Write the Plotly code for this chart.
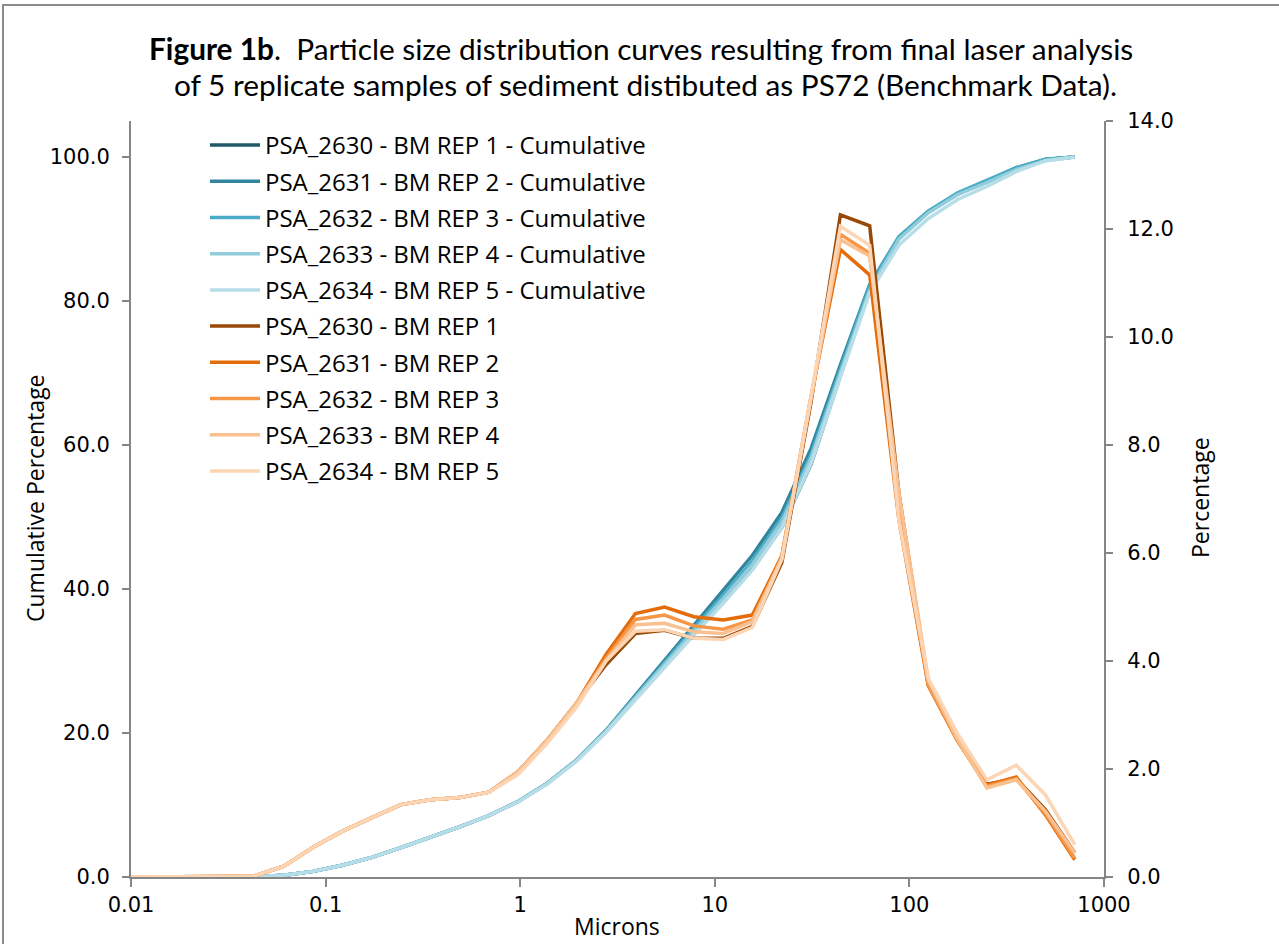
import plotly.graph_objects as go

# Particle size (microns)
microns = [0.01, 0.0153, 0.0216, 0.0305, 0.0432, 0.0610, 0.0863, 0.122, 0.173, 0.244,
           0.345, 0.488, 0.691, 0.977, 1.38, 1.95, 2.76, 3.91, 5.52, 7.81,
           11.05, 15.6, 22.1, 31.25, 44.2, 62.5, 88.4, 125, 177, 250,
           354, 500, 707]

# Percentage (right axis)
pct_rep1 = [0, 0, 0, 0.01, 0.02, 0.20, 0.55, 0.85, 1.10, 1.34, 1.43, 1.47, 1.57, 1.95, 2.54, 3.22,
            3.93, 4.51, 4.57, 4.42, 4.42, 4.64, 5.82, 8.80, 12.26, 12.06, 7.10, 3.55, 2.52, 1.72,
            1.82, 1.25, 0.45]
pct_rep2 = [0, 0, 0, 0.01, 0.02, 0.20, 0.55, 0.85, 1.10, 1.34, 1.43, 1.47, 1.57, 1.95, 2.54, 3.22,
            4.12, 4.88, 5.00, 4.82, 4.76, 4.85, 5.95, 8.90, 11.62, 11.15, 6.60, 3.55, 2.52, 1.70,
            1.85, 1.15, 0.32]
pct_rep3 = [0, 0, 0, 0.01, 0.02, 0.20, 0.55, 0.85, 1.10, 1.34, 1.43, 1.47, 1.57, 1.95, 2.54, 3.22,
            4.05, 4.77, 4.85, 4.65, 4.59, 4.76, 5.92, 8.85, 11.90, 11.55, 6.80, 3.55, 2.52, 1.68,
            1.82, 1.18, 0.35]
pct_rep4 = [0, 0, 0, 0.01, 0.02, 0.20, 0.55, 0.85, 1.10, 1.34, 1.43, 1.47, 1.57, 1.95, 2.54, 3.22,
            4.00, 4.67, 4.70, 4.54, 4.51, 4.73, 5.90, 8.90, 11.80, 11.50, 7.10, 3.65, 2.55, 1.65,
            1.80, 1.22, 0.45]
pct_rep5 = [0, 0, 0, 0.01, 0.02, 0.20, 0.55, 0.85, 1.10, 1.34, 1.43, 1.47, 1.57, 1.90, 2.48, 3.15,
            4.00, 4.55, 4.58, 4.42, 4.40, 4.62, 5.88, 8.90, 12.05, 11.70, 6.60, 3.68, 2.65, 1.80,
            2.07, 1.52, 0.60]

# Cumulative percentage (left axis)
cum_rep1 = [0, 0, 0, 0.01, 0.03, 0.23, 0.78, 1.63, 2.73, 4.07, 5.50, 6.97, 8.54, 10.49, 13.03, 16.25,
            20.18, 24.69, 29.26, 33.68, 38.10, 42.74, 48.56, 57.36, 69.62, 81.68, 88.78, 92.33, 94.85, 96.57,
            98.39, 99.64, 100.0]
cum_rep2 = [0, 0, 0, 0.01, 0.03, 0.23, 0.78, 1.63, 2.73, 4.07, 5.50, 6.97, 8.54, 10.49, 13.03, 16.25,
            20.37, 25.25, 30.25, 35.07, 39.83, 44.68, 50.63, 59.53, 71.15, 82.30, 88.90, 92.45, 94.97, 96.67,
            98.52, 99.67, 100.0]
cum_rep3 = [0, 0, 0, 0.01, 0.03, 0.23, 0.78, 1.63, 2.73, 4.07, 5.50, 6.97, 8.54, 10.49, 13.03, 16.25,
            20.30, 25.07, 29.92, 34.57, 39.16, 43.92, 49.84, 58.69, 70.59, 82.14, 88.94, 92.49, 95.01, 96.69,
            98.51, 99.69, 100.0]
cum_rep4 = [0, 0, 0, 0.01, 0.03, 0.23, 0.78, 1.63, 2.73, 4.07, 5.50, 6.97, 8.54, 10.49, 13.03, 16.25,
            20.25, 24.92, 29.62, 34.16, 38.67, 43.40, 49.30, 58.20, 70.00, 81.50, 88.60, 92.25, 94.80, 96.45,
            98.25, 99.47, 100.0]
cum_rep5 = [0, 0, 0, 0.01, 0.03, 0.23, 0.78, 1.63, 2.73, 4.07, 5.50, 6.97, 8.54, 10.44, 12.92, 16.07,
            20.07, 24.62, 29.20, 33.62, 38.02, 42.64, 48.52, 57.42, 69.47, 81.17, 87.77, 91.45, 94.10, 95.90,
            97.97, 99.49, 100.0]

cum_names = ["PSA_2630 - BM REP 1 - Cumulative", "PSA_2631 - BM REP 2 - Cumulative",
             "PSA_2632 - BM REP 3 - Cumulative", "PSA_2633 - BM REP 4 - Cumulative",
             "PSA_2634 - BM REP 5 - Cumulative"]
pct_names = ["PSA_2630 - BM REP 1", "PSA_2631 - BM REP 2", "PSA_2632 - BM REP 3",
             "PSA_2633 - BM REP 4", "PSA_2634 - BM REP 5"]
cum_colors = ["#215968", "#31859C", "#4BACC6", "#92CDDC", "#B7DEE8"]
pct_colors = ["#984807", "#E46C0A", "#F79646", "#FAC090", "#FCD5B5"]

cum_series = [cum_rep1, cum_rep2, cum_rep3, cum_rep4, cum_rep5]
pct_series = [pct_rep1, pct_rep2, pct_rep3, pct_rep4, pct_rep5]

fig = go.Figure()
g = 0
for name, col, ys in zip(cum_names, cum_colors, cum_series):
    fig.add_trace(go.Scatter(x=microns, y=ys, name=name, mode="lines",
                             line=dict(color=col, width=3.5), yaxis="y",
                             legendgroup=f"g{g}"))
    g += 1
for name, col, ys in zip(pct_names, pct_colors, pct_series):
    fig.add_trace(go.Scatter(x=microns, y=ys, name=name, mode="lines",
                             line=dict(color=col, width=3.5), yaxis="y2",
                             legendgroup=f"g{g}"))
    g += 1

W, H = 1279, 944
L, R, T, B = 131, 1104, 121, 877
pw, ph = R - L, B - T

def px(xp):
    return (xp - L) / pw

def py(yp):
    return (B - yp) / ph

tick_font = dict(family="DejaVu Sans", size=21, color="#000000")
axis_col = "#868686"

fig.update_layout(
    width=W, height=H,
    margin=dict(l=L, r=W - R, t=T, b=H - B, pad=0),
    paper_bgcolor="white", plot_bgcolor="white",
    showlegend=True,
    legend=dict(x=px(205), y=py(123), xanchor="left", yanchor="top",
                font=dict(family="Open Sans", size=24, color="#000000"),
                traceorder="grouped", tracegroupgap=2, itemwidth=50,
                bgcolor="rgba(0,0,0,0)"),
    xaxis=dict(type="log", range=[-2, 3], tickvals=[0.01, 0.1, 1, 10, 100, 1000],
               ticktext=["0.01", "0.1", "1", "10", "100", "1000"],
               showgrid=False, zeroline=False, showline=True, linecolor=axis_col, linewidth=2,
               ticks="outside", ticklen=8, tickcolor=axis_col, tickwidth=2,
               tickfont=tick_font),
    yaxis=dict(range=[0, 105], tickvals=[0, 20, 40, 60, 80, 100],
               ticktext=["0.0", "20.0", "40.0", "60.0", "80.0", "100.0"],
               showgrid=False, zeroline=False, showline=True, linecolor=axis_col, linewidth=2,
               ticks="outside", ticklen=7, tickcolor=axis_col, tickwidth=2,
               ticklabelstandoff=8, tickfont=tick_font),
    yaxis2=dict(range=[0, 14], overlaying="y", side="right",
                tickvals=[0, 2, 4, 6, 8, 10, 12, 14],
                ticktext=["0.0", "2.0", "4.0", "6.0", "8.0", "10.0", "12.0", "14.0"],
                showgrid=False, zeroline=False, showline=True, linecolor=axis_col, linewidth=2,
                ticks="outside", ticklen=7, tickcolor=axis_col, tickwidth=2,
                ticklabelstandoff=10, tickfont=tick_font),
)

title_font = dict(family="Lato", size=29.8, color="#000000")
fig.add_annotation(text="<b>Figure 1b</b>.  Particle size distribution curves resulting from final laser analysis",
                   xref="paper", yref="paper", x=px(641), y=py(48), showarrow=False,
                   xanchor="center", yanchor="middle", font=title_font)
fig.add_annotation(text="of 5 replicate samples of sediment distibuted as PS72 (Benchmark Data).",
                   xref="paper", yref="paper", x=px(645), y=py(84), showarrow=False,
                   xanchor="center", yanchor="middle", font=title_font)

lab_font = dict(family="Open Sans", size=23, color="#000000")
fig.add_annotation(text="Microns", xref="paper", yref="paper", x=px(617), y=py(926),
                   showarrow=False, xanchor="center", yanchor="middle", font=lab_font)
fig.add_annotation(text="Cumulative Percentage", xref="paper", yref="paper", x=px(35), y=py(498),
                   showarrow=False, xanchor="center", yanchor="middle", textangle=-90, font=lab_font)
fig.add_annotation(text="Percentage", xref="paper", yref="paper", x=px(1200), y=py(498),
                   showarrow=False, xanchor="center", yanchor="middle", textangle=-90, font=lab_font)

# chart-area border
fig.add_shape(type="rect", xref="paper", yref="paper",
              x0=px(3), x1=px(1300), y0=py(970), y1=py(5),
              line=dict(color="#8c8c8c", width=2), fillcolor="rgba(0,0,0,0)", layer="below")

fig.write_html("out.html", config={"displayModeBar": False},
               post_script="document.body.style.margin='0px';")
